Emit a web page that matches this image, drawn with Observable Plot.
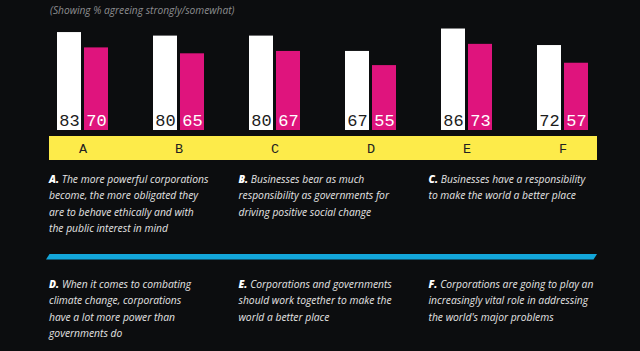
<!DOCTYPE html>
<html>
<head>
<meta charset="utf-8">
<script src="https://cdn.jsdelivr.net/npm/d3@7"></script>
<script src="https://cdn.jsdelivr.net/npm/@observablehq/plot@0.6"></script>
<style>
  html, body { margin: 0; padding: 0; background: #0c0d0f; }
  #wrap { position: relative; width: 640px; height: 351px; overflow: hidden; background: #0c0d0f; }
  #subtitle { position: absolute; left: 50px; top: 3px; font: italic 10.2px "Open Sans", sans-serif; color: #8d8d90; white-space: nowrap; }
  #band { position: absolute; left: 49px; top: 136px; width: 548px; height: 23.5px; background: #fdeb4a; }
  #chart { position: absolute; left: 0; top: 0; }
  #rule { position: absolute; left: 46px; top: 254px; width: 551px; height: 5.5px; background: #13a6da;
          clip-path: polygon(3.5px 0, 100% 0, calc(100% - 3.5px) 100%, 0 100%); }
  .stmt { position: absolute; font-family: "Open Sans", sans-serif; font-style: italic; font-weight: 400; font-size: 10.3px; color: #e4e4e4; line-height: 16.4px; white-space: nowrap; }
  .stmt b { font-style: italic; font-weight: 800; color: #fff; }
</style>
</head>
<body>
<div id="wrap">
  <div id="subtitle"></div>
  <div id="band"></div>
  <div id="chart"></div>
  <div id="rule"></div>
</div>
<script>
const subtitle = "(Showing % agreeing strongly/somewhat)";
const categories = ["A", "B", "C", "D", "E", "F"];
const seriesNames = ["Series 1", "Series 2"];
const series1 = [83, 80, 80, 67, 86, 72];
const series2 = [70, 65, 67, 55, 73, 57];
const seriesColors = ["#ffffff", "#df147d"];
const statements = [
  ["The more powerful corporations", "become, the more obligated they", "are to behave ethically and with", "the public interest in mind"],
  ["Businesses bear as much", "responsibility as governments for", "driving positive social change"],
  ["Businesses have a responsibility", "to make the world a better place"],
  ["When it comes to combating", "climate change, corporations", "have a lot more power than", "governments do"],
  ["Corporations and governments", "should work together to make the", "world a better place"],
  ["Corporations are going to play an", "increasingly vital role in addressing", "the world's major problems"]
];

const data = [];
categories.forEach((c, i) => {
  data.push({cat: c, series: seriesNames[0], value: series1[i]});
  data.push({cat: c, series: seriesNames[1], value: series2[i]});
});

document.getElementById("subtitle").textContent = subtitle;

const pixelFont = "'Liberation Mono', 'DejaVu Sans Mono', monospace";

const chart = Plot.plot({
  width: 640,
  height: 165,
  marginTop: 12,
  marginBottom: 35,
  marginLeft: 34,
  marginRight: 30,
  style: {background: "transparent", overflow: "visible"},
  fx: {domain: categories, paddingInner: 0.45, paddingOuter: 0.225, label: null},
  x: {domain: seriesNames, paddingInner: 0.1, paddingOuter: 0, axis: null},
  y: {domain: [0, 100], axis: null},
  color: {domain: seriesNames, range: seriesColors},
  marks: [
    Plot.barY(data, {fx: "cat", x: "series", y: "value", fill: "series"}),
    Plot.text(data.filter(d => d.series === seriesNames[0]), {
      fx: "cat", x: "series", y: 0, text: d => String(d.value),
      lineAnchor: "bottom", dy: -5, fill: "#1c1c1c",
      fontFamily: pixelFont, fontSize: 17
    }),
    Plot.text(data.filter(d => d.series === seriesNames[1]), {
      fx: "cat", x: "series", y: 0, text: d => String(d.value),
      lineAnchor: "bottom", dy: -5, fill: "#ffffff",
      fontFamily: pixelFont, fontSize: 17
    }),
    Plot.axisFx({anchor: "bottom", tickSize: 0, tickPadding: 12.5, label: null,
      fontFamily: pixelFont, fontSize: 13.5, fill: "#222", color: "#222"})
  ]
});
document.getElementById("chart").appendChild(chart);

const wrap = document.getElementById("wrap");
const colX = [49, 238.5, 428.5];
const rowY = [171, 276];
statements.forEach((lines, i) => {
  const div = document.createElement("div");
  div.className = "stmt";
  div.style.left = colX[i % 3] + "px";
  div.style.top = rowY[Math.floor(i / 3)] + "px";
  const b = document.createElement("b");
  b.textContent = categories[i] + ".";
  div.appendChild(b);
  lines.forEach((ln, j) => {
    if (j > 0) div.appendChild(document.createElement("br"));
    div.appendChild(document.createTextNode((j === 0 ? " " : "") + ln));
  });
  wrap.appendChild(div);
});
</script>
</body>
</html>
